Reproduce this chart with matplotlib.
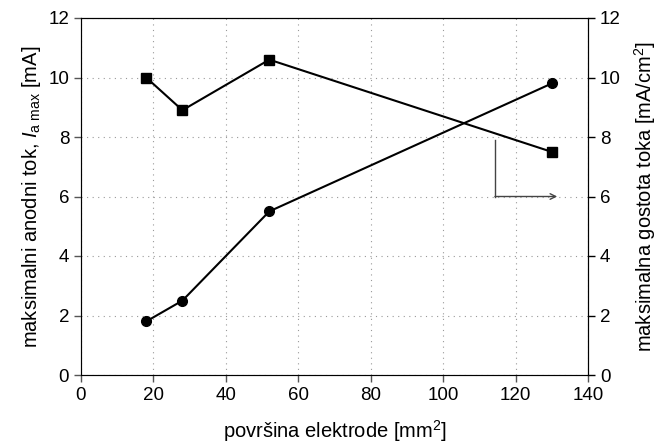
import matplotlib
matplotlib.use('Agg')
import matplotlib.pyplot as plt

plt.rcParams['font.family'] = ['Liberation Sans', 'DejaVu Sans']
plt.rcParams['mathtext.fontset'] = 'custom'
plt.rcParams['mathtext.rm'] = 'Liberation Sans'
plt.rcParams['mathtext.it'] = 'Liberation Sans:italic'

# data
area = [18, 28, 52, 130]
current = [1.8, 2.5, 5.5, 9.8]
density = [10.0, 8.9, 10.6, 7.5]

x_ticks = [0, 20, 40, 60, 80, 100, 120, 140]
y_ticks = [0, 2, 4, 6, 8, 10, 12]

fig = plt.figure(figsize=(6.62, 4.43), dpi=100)
ax = fig.add_axes([81 / 662, 1 - 375 / 443, 507 / 662, 357 / 443])
ax2 = ax.twinx()

ax.plot(area, current, '-o', color='black', lw=1.5, ms=7)
ax2.plot(area, density, '-s', color='black', lw=1.5, ms=7)

# arrow pointing to the right axis
ax2.plot([114.3, 114.3], [7.9, 6.0], color='#444444', lw=1)
ax2.annotate('', xy=(131.5, 6.0), xytext=(114.3, 6.0),
             arrowprops=dict(arrowstyle='->', color='#444444', lw=1,
                             shrinkA=0, shrinkB=0))

for a in (ax, ax2):
    a.set_xlim(0, 140)
    a.set_ylim(0, 12)
    a.set_yticks(y_ticks)
    a.tick_params(direction='out', length=5, labelsize=13.5, width=1)

ax.set_xticks(x_ticks)
ax.grid(True, linestyle=(0, (1, 4)), color='#999999', lw=0.8)
ax.set_axisbelow(True)

ax.spines['left'].set_color('#555555')
ax.spines['bottom'].set_color('#555555')
ax.tick_params(colors='#555555', labelcolor='black')
ax2.spines['right'].set_color('black')

ax.set_xlabel(r'površina elektrode [mm$^2$]', fontsize=14.5, labelpad=10)
ax.set_ylabel(r'maksimalni anodni tok, $\mathit{I}_{\mathrm{a\ max}}$ [mA]', fontsize=14.5)
ax2.set_ylabel(r'maksimalna gostota toka [mA/cm$^2$]', fontsize=14.5, labelpad=8)

fig.savefig('out.png', dpi=100)
